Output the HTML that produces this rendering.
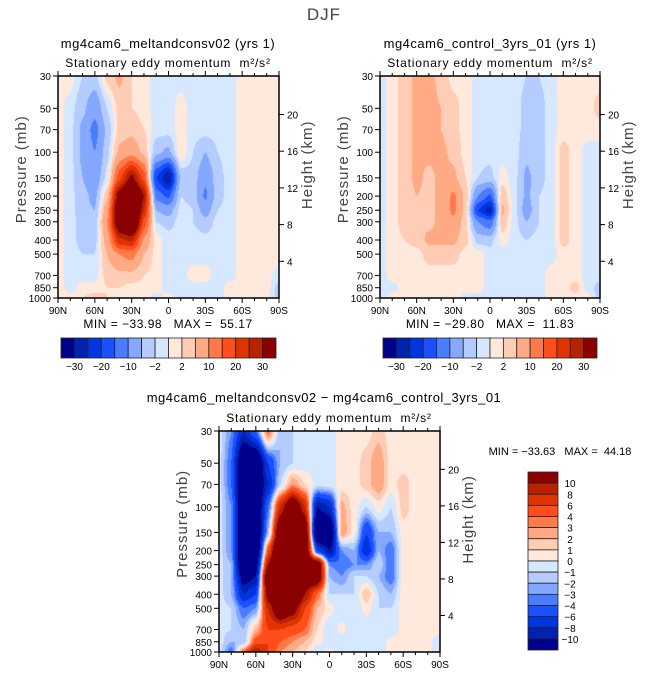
<!DOCTYPE html>
<html><head><meta charset="utf-8">
<style>
body{margin:0;background:#fff;}
#root{position:relative;width:649px;height:676px;overflow:hidden;font-family:"Liberation Sans",sans-serif;color:#000;}
canvas{position:absolute;}
svg{position:absolute;left:0;top:0;}
text{white-space:pre;}
</style></head>
<body>
<div id="root">
<canvas id="c1"></canvas>
<canvas id="c2"></canvas>
<canvas id="c3"></canvas>
<svg id="s" width="649" height="676"></svg>
</div>
<script>
const lats=[90,80,70,60,50,40,30,20,10,0,-10,-20,-30,-40,-50,-60,-70,-80,-90];
const levels=[30,50,70,100,150,200,250,300,400,500,700,850,1000];
const field1=[
[1,1,-2,-3,3,6,2,1,-1,-1,-1,-1,-1,-1,-1,1,1,1,1],
[1,-1,-4,-8,-2,3,2,1,-1,-1,1,-1,-1,-1,-1,1,1,1,1],
[1,-1,-6,-12,-4,3,4,2,-1,-1,1,-1,-1,-1,-1,1,1,1,1],
[1,-1,-6,-10,-3,6,8,4,-4,-6,2,-2,-5,-2,-1,1,1,1,1],
[1,-1,-5,-8,-1,18,32,18,-20,-30,-4,-3,-9,-3,-1,1,1,1,1],
[1,-1,-4,-6,4,35,50,30,-12,-16,-2,-3,-11,-3,-1,1,1,1,1],
[1,-1,-4,-5,8,42,55,25,-5,-7,-1,-2,-7,-2,-1,1,1,1,1],
[1,-1,-3,-4,10,40,50,18,-2,-3,-1,-2,-4,-1,-1,1,1,1,1],
[1,-1,-3,-3,7,24,26,9,1,-1,-1,-1,-1,-1,-1,1,1,1,1],
[1,-1,-2,-2,5,10,12,5,1,-1,-1,-1,-1,-1,-1,1,1,1,1],
[1,-1,-1,-1,3,4,4,2,1,-1,-1,1,1,-1,-1,1,2,1,-1],
[1,-1,1,1,2,2,1,1,1,-1,-1,-1,-1,-1,1,1,2,1,-3],
[1,1,2,3,2,1,1,1,-1,1,-1,-2,-2,-1,1,1,1,1,-3]];
const field2=[
[-1,1,3,6,6,4,1,1,-1,-1,-1,-1,-2,-2,-1,1,1,1,1],
[-1,1,3,6,6,5,3,1,-1,-1,-1,-1,-3,-3,-1,1,1,1,3],
[-1,1,3,6,6,5,3,1,-1,-1,-1,-1,-3,-3,-1,1,1,1,1],
[-1,1,3,6,6,6,4,1,-1,-1,-1,-1,-4,-3,-1,3,1,-1,-1],
[-1,1,3,6,4,6,6,2,-2,-3,1,-1,-6,-3,-1,3,1,-1,-1],
[-1,1,3,5,4,6,11,4,-10,-16,4,-1,-6,-2,-1,3,1,-1,-1],
[-1,1,3,5,4,6,11,4,-20,-28,6,-1,-7,-2,-1,3,1,-1,-1],
[-1,1,3,5,4,6,9,3,-10,-14,4,-1,-5,-2,-1,3,1,-1,-1],
[-1,1,2,3,6,6,6,3,-3,-3,1,-1,-2,-1,-1,3,1,-1,-1],
[-1,1,1,1,3,3,3,1,1,-1,-1,-1,-1,-1,-1,1,1,-1,-1],
[-1,1,1,1,1,1,1,1,1,-1,-1,-1,-1,-1,1,1,1,-1,-1],
[-1,-1,1,1,1,1,1,1,1,-1,-1,-1,-1,-1,1,1,3,-1,-3],
[-1,1,1,1,1,1,1,-1,-1,-1,-2,-1,-1,-1,1,1,1,1,-3]];
const field3=[
[-0.5,-3,-8,-4,4,-2,-1,-0.5,-0.5,-0.5,0.5,0.5,0.5,1.5,0.5,0.5,0.5,0.5,0.5],
[-0.5,-4,-15,-15,-6,-2,-1,-0.5,-0.5,-0.5,0.5,0.5,1.5,3,0.5,0.5,0.5,0.5,0.5],
[-0.5,-4,-15,-15,-8,-1,3,1,-0.5,-0.5,0.5,0.5,1.5,3,0.5,1.5,0.5,0.5,0.5],
[-0.5,-3,-15,-15,-4,8,15,8,-10,-8,2.5,0.5,-1,0.5,-1,1.5,0.5,0.5,0.5],
[-0.5,-3,-15,-15,-2,15,20,15,-15,-15,3,0.5,-6,-2,-2,0.5,0.5,0.5,0.5],
[-0.5,-3,-15,-15,5,20,20,15,-6,-10,-3,-2,-8,-2,-4,0.5,0.5,0.5,0.5],
[-0.5,-2,-15,-12,10,20,20,15,15,-3,-4,-3,-3,-1,-4,0.5,0.5,0.5,0.5],
[-0.5,-2,-12,-10,15,20,20,15,15,-2,-3,-1,-1,-2,-4,0.5,0.5,0.5,0.5],
[-0.5,-2,-8,-6,12,20,20,10,4,-1,-1,-1,2,-1,-2,0.5,0.5,0.5,0.5],
[-0.5,-1,-4,-3,8,15,12,6,2,0.5,-1,-1,0.5,-1,-1,0.5,0.5,0.5,0.5],
[-0.5,-1,-2,2,6,6,5,4,1,-1,0.5,-1,-1,-1,-1,0.5,0.5,0.5,0.5],
[-0.5,-2,-2,5,6,4,3,2,0.5,-1,-1,-1,-1,-1,0.5,0.5,0.5,0.5,-1],
[-0.5,-4,4,10,6,3,2,1,-1,0.5,-1,-1,-1,-1,0.5,0.5,0.5,0.5,-1]];
const contourLevelsAbs=[-30,-25,-20,-15,-10,-5,-2,0,2,5,10,15,20,25,30];
const contourLevelsDiff=[-10,-8,-6,-4,-3,-2,-1,0,1,2,3,4,6,8,10];
const barLabelsAbs=["-30","-20","-10","-2","2","10","20","30"];
const diffLabels=["10","8","6","4","3","2","1","0","-1","-2","-3","-4","-6","-8","-10"];
const pressureTicks=[30,50,70,100,150,200,250,300,400,500,700,850,1000];
const heightTicks=[4,8,12,16,20];
const latTicks=[90,60,30,0,-30,-60,-90];
const latTickLabels=["90N","60N","30N","0","30S","60S","90S"];
const colors=['#00008c','#0022b0','#0035e0','#1a50ff','#4a7cff','#84a8ff','#b4ccff','#d6e8ff','#ffe9dc','#ffcdb5','#ffaa85','#ff7a48','#ff4d1c','#e03400','#b82200','#8b0000'];

const NS='http://www.w3.org/2000/svg';
const svg=document.getElementById('s');
function el(tag,attrs,name,txt){const e=document.createElementNS(NS,tag);for(const k in attrs)e.setAttribute(k,attrs[k]);


if(txt!==undefined)e.textContent=txt;svg.appendChild(e);return e;}
function colorFor(v,lv){let i=0;while(i<lv.length&&v>=lv[i])i++;return colors[i];}
function hex(c){return [parseInt(c.substr(1,2),16),parseInt(c.substr(3,2),16),parseInt(c.substr(5,2),16)];}
function drawPanel(id,field,lv,x0,y0,w,h,name){
  const xS=lat=>x0+(90-lat)/180*w;
  const yS=p=>y0+Math.log(p/30)/Math.log(1000/30)*h;
  const cv=document.getElementById(id);cv.width=w;cv.height=h;cv.style.left=x0+'px';cv.style.top=y0+'px';
  const ctx=cv.getContext('2d');const img=ctx.createImageData(w,h);
  const logs=levels.map(p=>Math.log(p));
  for(let py=0;py<h;py++){
    const lp=Math.log(30)+(py+0.5)/h*Math.log(1000/30);
    let r=0;while(r<levels.length-2&&lp>logs[r+1])r++;
    let fy=(lp-logs[r])/(logs[r+1]-logs[r]);fy=Math.max(0,Math.min(1,fy));
    fy=fy*fy*(3-2*fy)*0.5+fy*0.5;
    for(let px=0;px<w;px++){
      const lat=90-(px+0.5)/w*180;const gi=(90-lat)/10;
      let c=Math.min(lats.length-2,Math.floor(gi));let fx=gi-c;
      fx=fx*fx*(3-2*fx)*0.5+fx*0.5;
      const v=(field[r][c]*(1-fx)+field[r][c+1]*fx)*(1-fy)+(field[r+1][c]*(1-fx)+field[r+1][c+1]*fx)*fy;
      const rgb=hex(colorFor(v,lv));const o=(py*w+px)*4;
      img.data[o]=rgb[0];img.data[o+1]=rgb[1];img.data[o+2]=rgb[2];img.data[o+3]=255;}
  }
  ctx.putImageData(img,0,0);
  el('rect',{x:x0,y:y0,width:w,height:h,fill:'none',stroke:'#000','stroke-width':1.5},name+'-frame');
  pressureTicks.forEach(p=>{const y=yS(p);
    el('line',{x1:x0-5,x2:x0,y1:y,y2:y,stroke:'#000'},name+'-ptick');
    el('text',{x:x0-7,y:y+4,'font-size':10,'text-anchor':'end'},name+'-ptick-label',String(p));});
  heightTicks.forEach(z=>{const p=1000*Math.exp(-z/6.9);const y=yS(p);
    el('line',{x1:x0+w,x2:x0+w+5,y1:y,y2:y,stroke:'#000'},name+'-htick');
    el('text',{x:x0+w+8,y:y+4,'font-size':10},name+'-htick-label',String(z));});
  for(let lat=90;lat>=-90;lat-=10){const x=xS(lat);const L=lat%30===0?5:3;
    el('line',{x1:x,x2:x,y1:y0+h,y2:y0+h+L,stroke:'#000'},name+'-xtick');
    el('line',{x1:x,x2:x,y1:y0,y2:y0-L,stroke:'#000'},name+'-xtick-top');}
  latTicks.forEach((lat,i)=>el('text',{x:xS(lat),y:y0+h+16,'font-size':10,'text-anchor':'middle'},name+'-lat-label',latTickLabels[i]));
  el('text',{x:x0-32,y:y0+h*0.42,'font-size':15,'text-anchor':'middle',fill:'#444','letter-spacing':1,transform:`rotate(-90 ${x0-32} ${y0+h*0.42})`},name+'-y-axis-title','Pressure (mb)');
  el('text',{x:x0+w+33,y:y0+h*0.4,'font-size':15,'text-anchor':'middle',fill:'#444','letter-spacing':1,transform:`rotate(-90 ${x0+w+33} ${y0+h*0.4})`},name+'-y2-axis-title','Height (km)');
}
drawPanel('c1',field1,contourLevelsAbs,58,76,221,222,'panel1');
drawPanel('c2',field2,contourLevelsAbs,380,76,220,222,'panel2');
drawPanel('c3',field3,contourLevelsDiff,219,431,221,221,'panel3');

el('text',{x:324,y:20,'font-size':17,'text-anchor':'middle',fill:'#444','letter-spacing':1},'figure-title','DJF');
el('text',{x:168,y:48,'font-size':13,'text-anchor':'middle','letter-spacing':0.5},'panel1-title','mg4cam6_meltandconsv02 (yrs 1)');
el('text',{x:168,y:67,'font-size':12,'text-anchor':'middle','letter-spacing':0.8},'panel1-subtitle','Stationary eddy momentum  m²/s²');
el('text',{x:490,y:48,'font-size':13,'text-anchor':'middle','letter-spacing':0.5},'panel2-title','mg4cam6_control_3yrs_01 (yrs 1)');
el('text',{x:490,y:67,'font-size':12,'text-anchor':'middle','letter-spacing':0.8},'panel2-subtitle','Stationary eddy momentum  m²/s²');
el('text',{x:168,y:328,'font-size':12,'text-anchor':'middle','letter-spacing':0.5},'panel1-minmax','MIN = −33.98   MAX =  55.17');
el('text',{x:490,y:328,'font-size':12,'text-anchor':'middle','letter-spacing':0.5},'panel2-minmax','MIN = −29.80   MAX =  11.83');
el('text',{x:324,y:402,'font-size':13,'text-anchor':'middle','letter-spacing':0.5},'panel3-title','mg4cam6_meltandconsv02 − mg4cam6_control_3yrs_01');
el('text',{x:329,y:422,'font-size':12,'text-anchor':'middle','letter-spacing':0.8},'panel3-subtitle','Stationary eddy momentum  m²/s²');
el('text',{x:560,y:455,'font-size':11,'text-anchor':'middle'},'panel3-minmax','MIN = −33.63   MAX =  44.18');

function hbar(x0,y0,w,h,name){const bw=w/colors.length;
  colors.forEach((c,i)=>el('rect',{x:x0+i*bw,y:y0,width:bw,height:h,fill:c,stroke:'#222','stroke-width':0.8},name+'-box'));
  barLabelsAbs.forEach((t,i)=>{const bi=[1,3,5,7,9,11,13,15][i];
    el('text',{x:x0+bi*bw,y:y0+h+12,'font-size':10,'text-anchor':'middle'},name+'-label',t.replace('-','−'));});}
hbar(61,338,215,20,'colorbar1');
hbar(383,338,214,20,'colorbar2');
(function(){const x0=528,y0=472,w=30,h=178,bh=h/colors.length;
  colors.slice().reverse().forEach((c,i)=>el('rect',{x:x0,y:y0+i*bh,width:w,height:bh,fill:c,stroke:'#222','stroke-width':0.8},'colorbar3-box'));
  diffLabels.forEach((t,i)=>el('text',{x:x0+w+12,y:y0+(i+1)*bh+4,'font-size':10,'text-anchor':'middle'},'colorbar3-label',t.replace('-','−')));})();
</script>
</body></html>
